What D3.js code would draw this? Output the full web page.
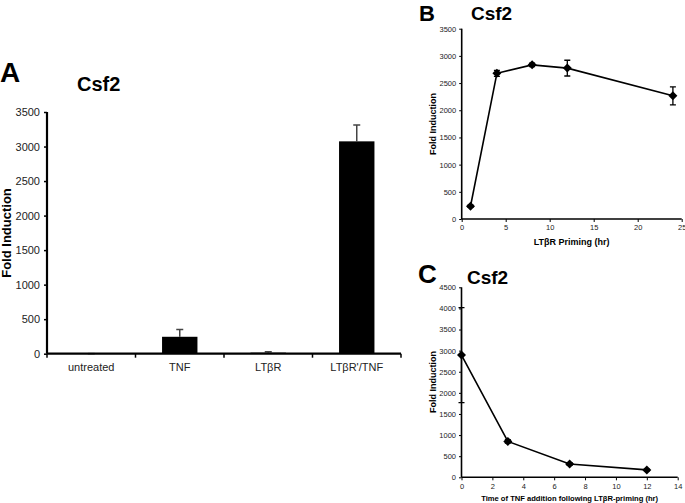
<!DOCTYPE html>
<html><head><meta charset="utf-8">
<script src="https://cdn.jsdelivr.net/npm/d3@7"></script>
<style>body{margin:0;background:#fff;} svg{display:block;font-family:"Liberation Sans",Arial,sans-serif;}</style>
</head><body>
<svg id="c" width="685" height="503"></svg>
<script>
// Panel A data
const catsA = ["untreated", "TNF", "LTβR", "LTβR'/TNF"];
const valsA = [1, 245, 15, 3075];
const errA = [0, 105, 15, 235];
const ticksA = [0, 500, 1000, 1500, 2000, 2500, 3000, 3500];
// Panel B data
const xB = [1, 4, 8, 12, 24];
const yB = [235, 2680, 2835, 2775, 2265];
const eB = [20, 55, 30, 145, 165];
const xTicksB = [0, 5, 10, 15, 20, 25];
const yTicksB = [0, 500, 1000, 1500, 2000, 2500, 3000, 3500];
// Panel C data
const xC = [0, 3, 7, 12];
const yC = [2895, 850, 315, 175];
const eC = [1125, 40, 30, 20];
const xTicksC = [0, 2, 4, 6, 8, 10, 12, 14];
const yTicksC = [0, 500, 1000, 1500, 2000, 2500, 3000, 3500, 4000, 4500];

const svg = d3.select("#c");

// ---------- Panel A ----------
{
  const x = d3.scaleBand().domain(catsA).range([47, 401]).padding(0);
  const y = d3.scaleLinear().domain([0, 3500]).range([353.7, 112]);
  const g = svg.append("g");
  const bw = x.bandwidth() * 0.4;
  g.selectAll(".eb").data(catsA).enter().append("path")
    .attr("d", (c, i) => {
      const cx = x(c) + x.bandwidth() / 2;
      const t = y(valsA[i] + errA[i]);
      return `M${cx},${y(valsA[i])}V${t}M${cx - 3.5},${t}H${cx + 3.5}`;
    })
    .attr("stroke", "#444").attr("stroke-width", 1.5).attr("fill", "none");
  g.selectAll(".bar").data(catsA).enter().append("rect")
    .attr("x", c => x(c) + (x.bandwidth() - bw) / 2)
    .attr("width", bw)
    .attr("y", (c, i) => y(valsA[i]))
    .attr("height", (c, i) => y(0) - y(valsA[i]))
    .attr("fill", "#000");
  const ya = g.append("g").attr("transform", "translate(47,0)")
    .call(d3.axisLeft(y).tickValues(ticksA).tickSize(3).tickPadding(4).tickFormat(d3.format("d")));
  ya.select(".domain").attr("stroke-width", 2.2).attr("d", `M0,${y(3500)}V${y(0)}`);
  ya.selectAll(".tick line").attr("stroke-width", 1.5);
  ya.selectAll("text").attr("font-size", 11).attr("fill", "#222");
  const xa = g.append("g").attr("transform", `translate(0,${y(0)})`);
  xa.append("path").attr("d", `M47,0H401`).attr("stroke", "#000").attr("stroke-width", 2.2);
  const bounds = catsA.map(c => x(c)).concat([x(catsA[catsA.length - 1]) + x.bandwidth()]);
  xa.selectAll(".tk").data(bounds).enter().append("path")
    .attr("d", d => `M${d},0V4`).attr("stroke", "#000").attr("stroke-width", 1.5);
  xa.selectAll(".lb").data(catsA).enter().append("text")
    .attr("x", c => x(c) + x.bandwidth() / 2).attr("y", 17)
    .attr("text-anchor", "middle").attr("font-size", 11).attr("fill", "#222").text(c => c);
  g.append("text").attr("transform", `translate(11,233) rotate(-90)`)
    .attr("text-anchor", "middle").attr("font-size", 13).attr("font-weight", "bold").text("Fold Induction");
  g.append("text").attr("x", 0).attr("y", 82).attr("font-size", 28).attr("font-weight", "bold").text("A");
  g.append("text").attr("x", 77).attr("y", 91).attr("font-size", 20).attr("font-weight", "bold").text("Csf2");
}

function linePanel(opt) {
  const x = d3.scaleLinear().domain(opt.xd).range(opt.xr);
  const y = d3.scaleLinear().domain(opt.yd).range(opt.yr);
  const g = svg.append("g");
  const ya = g.append("g").attr("transform", `translate(${opt.xr[0]},0)`)
    .call(d3.axisLeft(y).tickValues(opt.yt).tickSize(2.5).tickPadding(3).tickFormat(d3.format("d")));
  ya.select(".domain").attr("stroke-width", 1.6).attr("d", `M0,${opt.yr[1]}V${opt.yr[0]}`);
  ya.selectAll("text").attr("font-size", 7.5).attr("fill", "#222");
  const xa = g.append("g").attr("transform", `translate(0,${opt.yr[0]})`)
    .call(d3.axisBottom(x).tickValues(opt.xt).tickSize(3).tickPadding(3).tickFormat(d3.format("d")));
  xa.select(".domain").attr("stroke-width", 1.6).attr("d", `M${opt.xr[0]},0H${opt.xr[1]}`);
  xa.selectAll("text").attr("font-size", 7.5).attr("fill", "#222");
  const line = d3.line().x((d, i) => x(opt.xs[i])).y(d => y(d));
  g.append("path").datum(opt.ys).attr("d", line).attr("fill", "none").attr("stroke", "#000").attr("stroke-width", 1.6);
  g.selectAll(".eb").data(opt.ys).enter().append("path")
    .attr("d", (d, i) => {
      const cx = x(opt.xs[i]), t = y(d + opt.es[i]), b = y(d - opt.es[i]);
      return `M${cx},${t}V${b}M${cx - 3},${t}H${cx + 3}M${cx - 3},${b}H${cx + 3}`;
    })
    .attr("stroke", "#000").attr("stroke-width", 1.3).attr("fill", "none");
  g.selectAll(".pt").data(opt.ys).enter().append("path")
    .attr("transform", (d, i) => `translate(${x(opt.xs[i])},${y(d)})`)
    .attr("d", "M0,-4.5L4.5,0L0,4.5L-4.5,0Z").attr("fill", "#000");
  g.append("text").attr("transform", `translate(${opt.ylx},${opt.yly}) rotate(-90)`)
    .attr("text-anchor", "middle").attr("font-size", 9).attr("font-weight", "bold").text("Fold Induction");
  g.append("text").attr("x", (opt.xr[0] + opt.xr[1]) / 2).attr("y", opt.xly)
    .attr("text-anchor", "middle").attr("font-size", opt.xlfs).attr("font-weight", "bold").text(opt.xl);
  g.append("text").attr("x", opt.lx).attr("y", opt.ly).attr("font-size", opt.lfs).attr("font-weight", "bold").text(opt.letter);
  g.append("text").attr("x", opt.tx).attr("y", opt.ty).attr("font-size", 19).attr("font-weight", "bold").text("Csf2");
}

linePanel({
  xd: [0, 25], xr: [461.7, 681.7], yd: [0, 3500], yr: [219, 28.7],
  xs: xB, ys: yB, es: eB, xt: xTicksB, yt: yTicksB,
  ylx: 436, yly: 124, xl: "LTβR Priming (hr)", xly: 245, xlfs: 9,
  letter: "B", lfs: 22, lx: 419, ly: 21, tx: 471, ty: 20
});
linePanel({
  xd: [0, 14], xr: [461.5, 677.7], yd: [0, 4500], yr: [477.3, 287.3],
  xs: xC, ys: yC, es: eC, xt: xTicksC, yt: yTicksC,
  ylx: 436, yly: 382, xl: "Time of TNF addition following LTβR-priming (hr)", xly: 501, xlfs: 7.6,
  letter: "C", lfs: 26, lx: 418, ly: 283, tx: 467, ty: 284
});
</script>
</body></html>
